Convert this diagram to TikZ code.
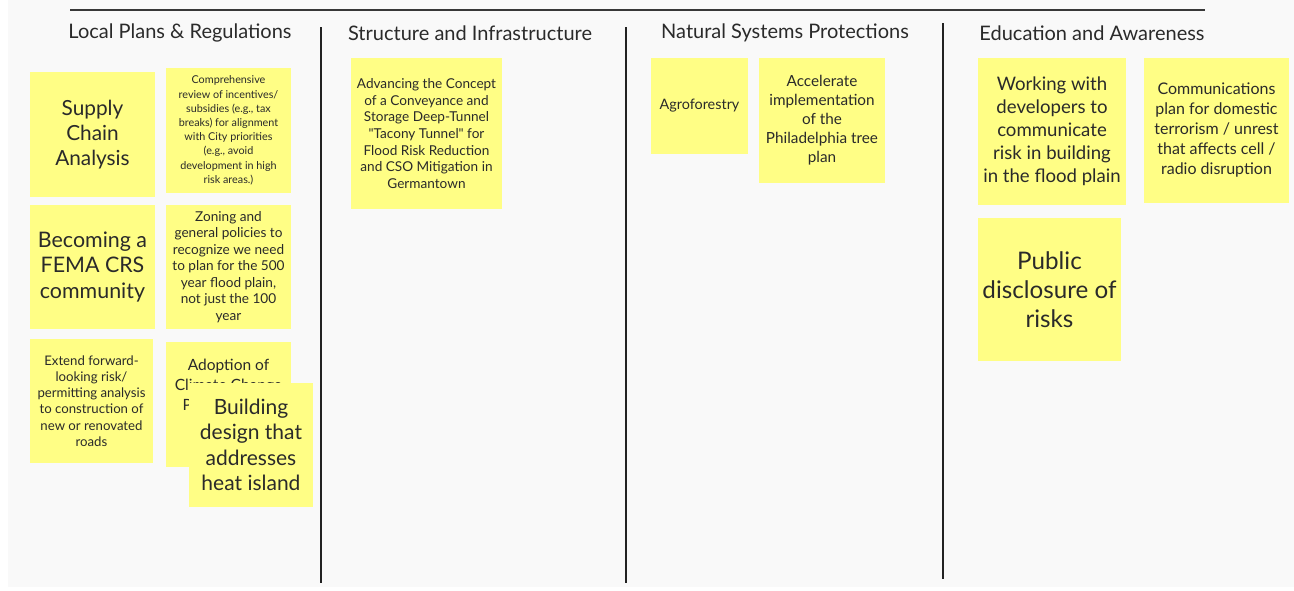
\documentclass[tikz,border=0pt]{standalone}
\usepackage{fontspec}
\setmainfont{Lato}[Ligatures=TeXOff]
\definecolor{bg}{HTML}{F9F9F9}
\definecolor{notey}{HTML}{FFFE85}
\definecolor{ink}{HTML}{2A2A2A}
\definecolor{rule}{HTML}{222222}
\newcommand{\fs}[2]{\fontsize{#1}{#2}\selectfont}
\begin{document}
\begin{tikzpicture}[x=1pt,y=-1pt,
  note/.style={fill=notey, draw=none, inner sep=0pt, align=center, text=ink},
  header/.style={inner sep=0pt, text=ink, font=\fs{20}{24}},
  divider/.style={draw=rule, line width=1.6pt}]
\useasboundingbox (0,0) rectangle (1294,590);
\fill[white] (0,0) rectangle (1294,590);
\fill[bg] (8,0) rectangle (1294,587);
% top rule
\coordinate (tl) at (70,10);
\coordinate (tr) at (1205,10);
\draw[draw=rule!90, line width=2pt] (tl) -- (tr);
% dividers
\coordinate (d1t) at (321,27); \coordinate (d1b) at (321,583);
\coordinate (d2t) at (626,27); \coordinate (d2b) at (626,583);
\coordinate (d3t) at (943,23); \coordinate (d3b) at (943,579);
\draw[divider] (d1t) -- (d1b);
\draw[divider] (d2t) -- (d2b);
\draw[divider] (d3t) -- (d3b);
% headers
\node[header] (h1) at (180,33) {Local Plans \& Regulations};
\node[header] (h2) at (470,33) {Structure and Infrastructure};
\node[header] (h3) at (785,33) {Natural Systems Protections};
\node[header] (h4) at (1092,33) {Education and Awareness};
% column 1
\node[note, minimum width=125pt, minimum height=125pt, font=\fs{20.8}{25}] (n1) at (92.5,134.5) {Supply\\Chain\\Analysis};
\node[note, minimum width=125pt, minimum height=125pt, font=\fs{10.8}{14.2}] (n2) at (228.5,130.5) {Comprehensive\\review of incentives/\\subsidies (e.g., tax\\breaks) for alignment\\with City priorities\\(e.g., avoid\\development in high\\risk areas.)};
\node[note, minimum width=125pt, minimum height=124pt, font=\fs{21.4}{25.5}] (n3) at (92.5,267) {Becoming a\\FEMA CRS\\community};
\node[note, minimum width=125pt, minimum height=124pt, font=\fs{13.6}{16.5}] (n4) at (228.5,267) {Zoning and\\general policies to\\recognize we need\\to plan for the 500\\year flood plain,\\not just the 100\\year};
\node[note, minimum width=123pt, minimum height=124pt, font=\fs{13.2}{16.2}] (n5) at (91.5,401) {Extend forward-\\looking risk/\\permitting analysis\\to construction of\\new or renovated\\roads};
\node[note, minimum width=125pt, minimum height=125pt, font=\fs{15.5}{20}] (n6) at (228.5,404.5) {Adoption of\\Climate Change\\Preparedness\\Building\\Codes};
\node[note, minimum width=124pt, minimum height=124pt, font=\fs{21}{25.5}] (n7) at (251,445) {Building\\design that\\addresses\\heat island};
% column 2
\node[note, minimum width=151pt, minimum height=151pt, font=\fs{13.6}{16.6}] (n8) at (426.5,133.5) {Advancing the Concept\\of a Conveyance and\\Storage Deep-Tunnel\\"Tacony Tunnel" for\\Flood Risk Reduction\\and CSO Mitigation in\\Germantown};
% column 3
\node[note, minimum width=97pt, minimum height=96pt, font=\fs{14.4}{18}] (n9) at (699.5,106) {Agroforestry};
\node[note, minimum width=126pt, minimum height=125pt, font=\fs{15.3}{19}] (n10) at (822,120.5) {Accelerate\\implementation\\of the\\Philadelphia tree\\plan};
% column 4
\node[note, minimum width=148pt, minimum height=147pt, font=\fs{18.6}{23}] (n11) at (1052,131.5) {Working with\\developers to\\communicate\\risk in building\\in the flood plain};
\node[note, minimum width=145pt, minimum height=145pt, font=\fs{16}{20}] (n12) at (1216.5,130.5) {Communications\\plan for domestic\\terrorism / unrest\\that affects cell /\\radio disruption};
\node[note, minimum width=143pt, minimum height=143pt, font=\fs{24.2}{29}] (n13) at (1049.5,289.5) {Public\\disclosure of\\risks};
\end{tikzpicture}
\end{document}
